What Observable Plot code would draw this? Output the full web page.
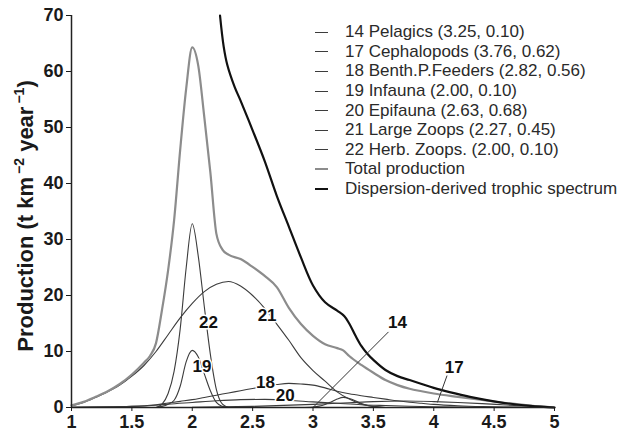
<!DOCTYPE html>
<html><head><meta charset="utf-8">
<script src="https://cdn.jsdelivr.net/npm/d3@7"></script>
<script src="https://cdn.jsdelivr.net/npm/@observablehq/plot@0.6"></script>
<style>
body{margin:0;background:#fff;}
#wrap{position:relative;width:619px;height:433px;font-family:"Liberation Sans",Arial,sans-serif;}
#legend{position:absolute;left:315px;top:22.5px;font-size:17px;color:#2a2a2a;}
.item{display:flex;align-items:center;height:19.6px;white-space:nowrap;}
.sw{width:13px;height:0;margin-right:17px;}
</style></head><body><div id="wrap"><div id="legend"></div></div>
<script>
// ---- data ----
const tl14 = [2.9,3.0,3.05,3.1,3.15,3.2,3.25,3.3,3.35,3.4,3.45,3.5,3.55,3.6];
const p14  = [0,0.1,0.25,0.55,1.0,1.5,1.8,1.6,1.2,0.7,0.35,0.15,0.05,0];

const tl17 = [2.0,2.5,3.0,3.3,3.5,3.76,4.0,4.2,4.4,4.6,4.8,5.0];
const p17  = [0.05,0.2,0.55,0.85,1.05,1.15,1.05,0.9,0.7,0.45,0.22,0];

const tl18 = [1.0,1.5,1.7,1.8,1.9,2.0,2.1,2.2,2.3,2.4,2.5,2.6,2.7,2.8,2.9,3.0,3.1,3.2,3.3,3.4,3.5,3.6,3.7,3.8,3.9,4.0,4.2,4.4,4.6,4.8,5.0];
const p18  = [0.05,0.2,0.5,0.8,1.1,1.4,1.8,2.2,2.6,3.0,3.4,3.8,4.1,4.3,4.2,4.0,3.5,2.9,2.45,2.1,1.8,1.5,1.2,0.95,0.75,0.55,0.3,0.15,0.07,0.02,0];

const tl19 = [1.70,1.75,1.80,1.85,1.90,1.95,2.00,2.05,2.10,2.15,2.20,2.25,2.30];
const p19  = [0,0.2,0.6,1.3,3.8,8.2,10.2,9.0,6.0,3.0,0.9,0.2,0];

const tl20 = [1.0,1.5,1.7,1.8,2.0,2.2,2.4,2.6,2.8,3.0,3.2,3.4,3.6,3.8,4.0,4.2,4.5,5.0];
const p20  = [0.05,0.2,0.4,0.6,0.9,1.2,1.4,1.45,1.3,1.0,0.75,0.5,0.35,0.22,0.13,0.08,0.03,0];

const tl21 = [1.0,1.1,1.2,1.3,1.4,1.5,1.6,1.7,1.8,1.9,2.0,2.1,2.2,2.3,2.4,2.5,2.6,2.7,2.8,2.9,3.0,3.1,3.2,3.3,3.4,3.5,3.6];
const p21  = [0.3,0.9,1.8,2.8,4.0,5.6,7.5,10.0,13.0,16.0,18.6,20.7,22.0,22.5,21.7,20.0,17.7,14.9,12.0,8.9,6.6,4.7,2.8,1.5,0.6,0.2,0];

const tl22 = [1.70,1.75,1.80,1.85,1.90,1.95,2.00,2.05,2.10,2.15,2.20,2.25,2.30];
const p22  = [0,0.6,2.5,6.5,14,25,32.8,27,18,9.5,3.2,0.6,0];

const tlTotal = [1.0,1.1,1.2,1.3,1.4,1.5,1.6,1.65,1.7,1.75,1.8,1.85,1.9,1.95,2.0,2.05,2.1,2.15,2.2,2.25,2.3,2.4,2.5,2.6,2.7,2.8,2.9,3.0,3.1,3.2,3.25,3.3,3.4,3.5,3.6,3.7,3.8,3.9,4.0,4.2,4.4,4.6,4.8,5.0];
const pTotal  = [0.4,1.0,1.9,2.9,4.2,5.9,8.0,9.2,11.5,17.5,24.5,33.5,46,57,64.3,61,51.8,42,31,28.2,27.3,26.5,25.1,23.5,21.5,17.8,14.9,12.8,11.3,10.6,10.2,9.2,7.6,6.2,4.9,4.0,3.35,2.9,2.5,1.9,1.35,0.8,0.35,0];

const tlDisp = [2.23,2.26,2.29,2.35,2.4,2.5,2.6,2.7,2.8,2.9,3.0,3.1,3.2,3.26,3.3,3.35,3.4,3.45,3.5,3.6,3.7,3.8,3.9,4.0,4.14,4.3,4.55,4.8,5.0];
const pDisp  = [70,64.5,61.2,57.3,54.8,49.5,44,37.8,32.3,26.8,21.8,18.8,17.3,16.3,15.0,12.9,11.0,9.6,8.5,6.7,5.6,4.9,4.2,3.5,2.7,1.9,0.9,0.3,0];

const legendNames = ["14 Pelagics (3.25, 0.10)","17 Cephalopods (3.76, 0.62)","18 Benth.P.Feeders (2.82, 0.56)","19 Infauna (2.00, 0.10)","20 Epifauna (2.63, 0.68)","21 Large Zoops (2.27, 0.45)","22 Herb. Zoops. (2.00, 0.10)","Total production","Dispersion-derived trophic spectrum"];

const labelText = ["22","21","19","18","20","14","17"];
const labelX = [2.135,2.62,2.08,2.607,2.77,3.70,4.17];
const labelY = [15.2,16.4,7.3,4.5,2.1,15.2,7.2];

const leaderX1 = [3.625,4.11], leaderY1 = [13.5,5.7];
const leaderX2 = [3.0,4.03],  leaderY2 = [0,0.9];

const xTicks = [1,1.5,2,2.5,3,3.5,4,4.5,5];
const yTicks = [0,10,20,30,40,50,60,70];

// ---- build ----
const toRows = (xs, ys) => xs.map((x,i) => ({x, y: ys[i]}));
const groups = [[tl14,p14],[tl17,p17],[tl18,p18],[tl19,p19],[tl20,p20],[tl21,p21],[tl22,p22]];
const groupColor = "#3c3c3c", totalColor = "#8c8c8c", dispColor = "#111";

const labels = labelText.map((t,i) => ({t, x: labelX[i], y: labelY[i]}));
const leaders = leaderX1.map((x1,i) => ({x1, y1: leaderY1[i], x2: leaderX2[i], y2: leaderY2[i]}));

const chart = Plot.plot({
  width: 619, height: 433,
  marginLeft: 71, marginRight: 65, marginTop: 15, marginBottom: 26,
  x: {domain: [1,5]},
  y: {domain: [0,70]},
  style: {fontFamily: "'Liberation Sans', Arial, sans-serif", fontSize: "18px", fontWeight: "bold", color: "#1a1a1a", background: "white", overflow: "visible"},
  marks: [
    ...groups.map(([xs,ys]) => Plot.line(toRows(xs,ys), {x:"x", y:"y", stroke: groupColor, strokeWidth: 1.1, curve: "monotone-x"})),
    Plot.line(toRows(tlTotal,pTotal), {x:"x", y:"y", stroke: totalColor, strokeWidth: 2.2, curve: "monotone-x"}),
    Plot.line(toRows(tlDisp,pDisp), {x:"x", y:"y", stroke: dispColor, strokeWidth: 2.2, curve: "catmull-rom"}),
    Plot.link(leaders, {x1:"x1", y1:"y1", x2:"x2", y2:"y2", stroke: "#333", strokeWidth: 1}),
    Plot.text(labels, {x:"x", y:"y", text:"t", fontSize: 17, fontWeight: "bold", fill: "#111", stroke: "white", strokeWidth: 3}),
    Plot.ruleX([1], {stroke: "#222", strokeWidth: 1.5}),
    Plot.ruleY([0], {stroke: "#222", strokeWidth: 1.5}),
    Plot.axisX({ticks: xTicks, tickSize: 4, tickPadding: 4, tickFormat: d => String(d), label: null}),
    Plot.axisY({ticks: yTicks, tickSize: 5, tickPadding: 3, tickFormat: d => String(d), label: null})
  ]
});
document.getElementById("wrap").prepend(chart);

const svg = d3.select(chart);
const t = svg.append("text")
  .attr("transform", "translate(33,216) rotate(-90)")
  .attr("text-anchor", "middle")
  .attr("font-size", 22).attr("font-weight", "bold").attr("fill", "#1a1a1a");
t.append("tspan").text("Production (t km");
t.append("tspan").attr("dy", -9).attr("font-size", 14).attr("dx", 3).text("\u22122");
t.append("tspan").attr("dy", 9).text(" year");
t.append("tspan").attr("dy", -9).attr("font-size", 14).attr("dx", 3).text("\u22121");
t.append("tspan").attr("dy", 9).text(")");

const legendColors = [groupColor,groupColor,groupColor,groupColor,groupColor,groupColor,groupColor,totalColor,dispColor];
const legendWidths = [1.5,1.5,1.5,1.5,1.5,1.5,1.5,2,2.5];
const lg = d3.select("#legend");
legendNames.forEach((n,i) => {
  const row = lg.append("div").attr("class","item");
  row.append("div").attr("class","sw").style("border-top", `${legendWidths[i]}px solid ${legendColors[i]}`);
  row.append("span").text(n);
});
</script></body></html>
